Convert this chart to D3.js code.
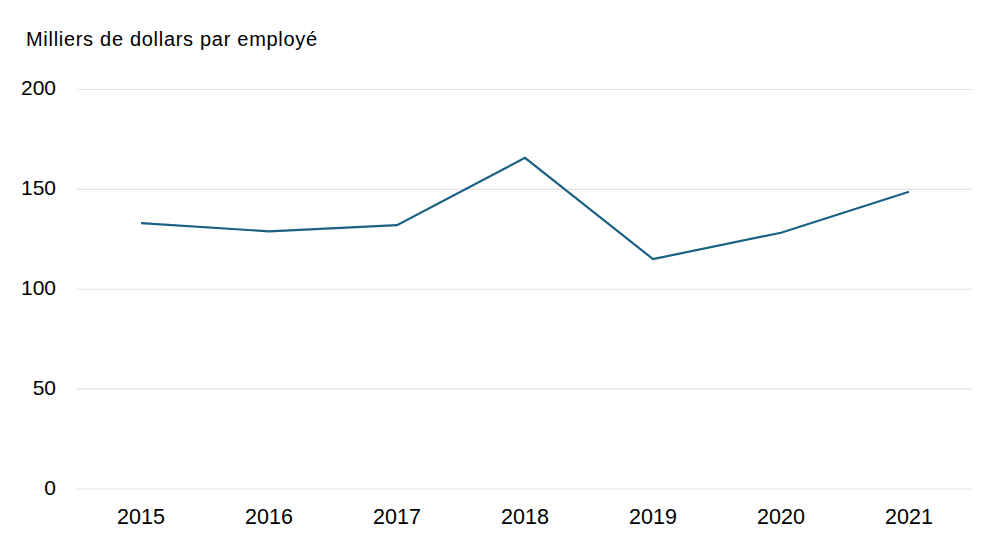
<!DOCTYPE html>
<html>
<head>
<meta charset="utf-8">
<script src="https://cdn.jsdelivr.net/npm/d3@7"></script>
<style>
  body { margin: 0; background: #fff; }
  svg { font-family: "Liberation Sans", Arial, sans-serif; }
</style>
</head>
<body>
<svg id="chart"></svg>
<script>
const years = ["2015", "2016", "2017", "2018", "2019", "2020", "2021"];
const values = [133.1, 129.0, 132.1, 165.8, 115.1, 128.3, 148.8];
const yTicks = [0, 50, 100, 150, 200];
const yTitle = "Milliers de dollars par employé";

const width = 992, height = 558;
const svg = d3.select("#chart")
    .attr("width", width)
    .attr("height", height);

const x = d3.scaleBand()
    .domain(years)
    .range([77, 973]);
const y = d3.scaleLinear()
    .domain([0, 200])
    .range([489, 89.5]);

// gridlines
svg.append("g")
    .selectAll("line")
    .data(yTicks)
    .enter()
    .append("line")
        .attr("x1", 77)
        .attr("x2", 972)
        .attr("y1", (d) => y(d))
        .attr("y2", (d) => y(d))
        .attr("stroke", "#e3e3e3")
        .attr("stroke-width", 1.2);

// y labels
svg.append("g")
    .selectAll("text")
    .data(yTicks)
    .enter()
    .append("text")
        .attr("x", 56)
        .attr("y", (d) => y(d))
        .attr("text-anchor", "end")
        .attr("dominant-baseline", "middle")
        .style("font-size", "21px")
        .attr("fill", "#000")
        .text((d) => d);

// x axis labels
const xAxis = svg.append("g")
    .attr("transform", "translate(0, 489)")
    .call(d3.axisBottom(x).tickSize(0).tickPadding(20));
xAxis.select(".domain").remove();
xAxis.selectAll("text")
    .style("font-size", "21.5px")
    .style("font-family", "'Liberation Sans', Arial, sans-serif")
    .attr("fill", "#000");

// title
svg.append("text")
    .attr("x", 26)
    .attr("y", 46)
    .style("font-size", "20px")
    .style("letter-spacing", "0.7px")
    .attr("fill", "#000")
    .text(yTitle);

// line
svg.append("path")
    .datum(values)
    .attr("fill", "none")
    .attr("stroke", "#1b6185")
    .attr("stroke-width", 2.2)
    .attr("stroke-linejoin", "miter")
    .attr("d", d3.line()
        .x((d, i) => x(years[i]) + x.bandwidth() / 2)
        .y((d) => y(d))
    );
</script>
</body>
</html>
